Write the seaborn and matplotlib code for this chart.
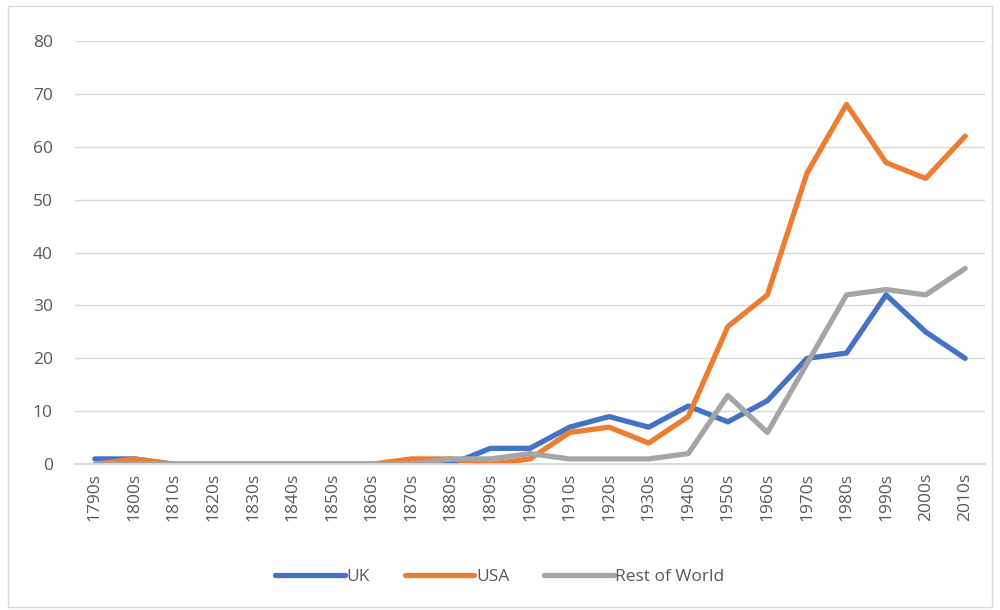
import matplotlib
matplotlib.use("Agg")
import matplotlib.pyplot as plt
import seaborn as sns
import pandas as pd
from matplotlib.patches import Rectangle

decades = ["1790s", "1800s", "1810s", "1820s", "1830s", "1840s", "1850s", "1860s",
           "1870s", "1880s", "1890s", "1900s", "1910s", "1920s", "1930s", "1940s",
           "1950s", "1960s", "1970s", "1980s", "1990s", "2000s", "2010s"]
uk = [1, 1, 0, 0, 0, 0, 0, 0, 0, 0, 3, 3, 7, 9, 7, 11, 8, 12, 20, 21, 32, 25, 20]
usa = [0, 1, 0, 0, 0, 0, 0, 0, 1, 1, 0, 1, 6, 7, 4, 9, 26, 32, 55, 68, 57, 54, 62]
rest = [0, 0, 0, 0, 0, 0, 0, 0, 0, 1, 1, 2, 1, 1, 1, 2, 13, 6, 19, 32, 33, 32, 37]
series_names = ["UK", "USA", "Rest of World"]
colors = ["#4472C4", "#ED7D31", "#A5A5A5"]

rows = []
for name, vals in zip(series_names, [uk, usa, rest]):
    for d, v in zip(decades, vals):
        rows.append({"decade": d, "value": v, "series": name})
df = pd.DataFrame(rows)

sns.set_theme(style="white")
plt.rcParams["font.family"] = ["Open Sans", "DejaVu Sans"]
txt = "#595959"

fig = plt.figure(figsize=(10, 6.1), dpi=100)
ax = fig.add_axes([0.075, 0.239, 0.91, 0.694])
sns.lineplot(data=df, x="decade", y="value", hue="series", hue_order=series_names,
             palette=colors, linewidth=3.8, sort=False, ax=ax, legend=True)
ax.set_xlim(-0.5, len(decades) - 0.5)
ax.set_ylim(0, 80)
ax.set_yticks(range(0, 81, 10))
ax.yaxis.grid(True, color="#D9D9D9", linewidth=1)
ax.set_axisbelow(True)
for s in ["top", "right", "left"]:
    ax.spines[s].set_visible(False)
ax.spines["bottom"].set_color("#D9D9D9")
ax.set_xlabel("")
ax.set_ylabel("")
ax.tick_params(axis="x", rotation=90, labelsize=12.5, colors=txt, length=0, pad=6)
ax.tick_params(axis="y", labelsize=12.5, colors=txt, length=0, pad=16)
for lab in ax.get_yticklabels():
    lab.set_horizontalalignment("right")

handles, labels = ax.get_legend_handles_labels()
ax.legend_.remove()
leg = fig.legend(handles, labels, loc="center", bbox_to_anchor=(0.5, 0.054), ncol=3,
                 frameon=False, fontsize=12.5, handlelength=4.0, handletextpad=0.1,
                 columnspacing=2.0, labelcolor=txt)
for h in leg.get_lines():
    h.set_linewidth(3.8)
    h.set_solid_capstyle("round")

fig.patches.append(Rectangle((0.008, 0.005), 0.984, 0.985, transform=fig.transFigure,
                             fill=False, edgecolor="#D9D9D9", linewidth=1))
fig.savefig("out.png", dpi=100)
